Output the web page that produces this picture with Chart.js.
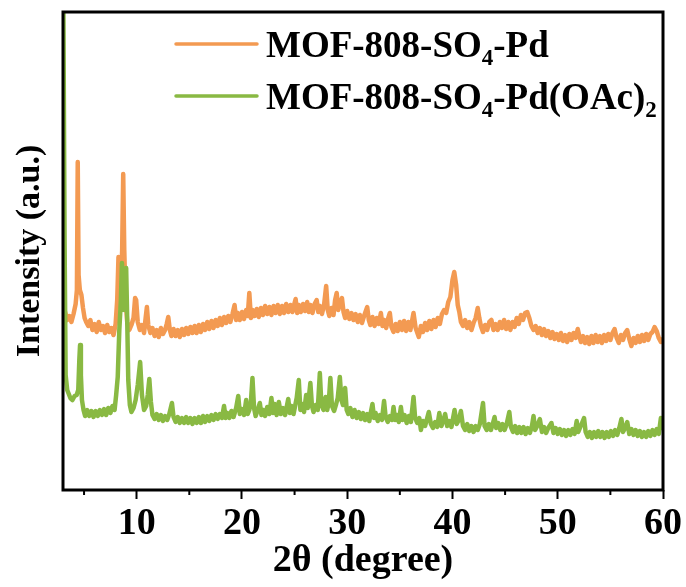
<!DOCTYPE html>
<html>
<head>
<meta charset="utf-8">
<title>XRD</title>
<script src="https://cdn.jsdelivr.net/npm/chart.js@4.4.1/dist/chart.umd.min.js"></script>
<style>
  html, body { margin: 0; padding: 0; background: #fff; }
  #wrap { width: 686px; height: 587px; }
</style>
</head>
<body>
<div id="wrap"><canvas id="xrd"></canvas></div>
<script>
// 2theta positions (degree) and intensities (a.u.) for each pattern
const angleA = [
  3.0, 3.2, 3.4, 3.6, 3.8, 4.0, 4.2, 4.32, 4.4, 4.48, 4.6, 4.75, 4.9, 5.05, 5.2, 5.4, 5.6, 5.8, 6.0, 6.2,
  6.4, 6.6, 6.8, 7.0, 7.2, 7.4, 7.6, 7.8, 8.0, 8.15, 8.27, 8.38, 8.5, 8.62, 8.72, 8.82, 8.95, 9.1, 9.3, 9.5,
  9.7, 9.85, 9.95, 10.1, 10.3, 10.5, 10.7, 10.85, 10.97, 11.1, 11.3, 11.5, 11.7, 11.9, 12.1, 12.3, 12.5, 12.7, 12.85, 13.0,
  13.15, 13.3, 13.5, 13.7, 13.9, 14.1, 14.3, 14.5, 14.7, 14.9, 15.1, 15.3, 15.5, 15.7, 15.9, 16.1, 16.3, 16.5, 16.7, 16.9,
  17.1, 17.3, 17.5, 17.7, 17.9, 18.1, 18.3, 18.5, 18.7, 18.9, 19.1, 19.3, 19.45, 19.6, 19.8, 20.0, 20.2, 20.4, 20.55, 20.7,
  20.85, 21.0, 21.2, 21.4, 21.6, 21.8, 22.0, 22.2, 22.4, 22.6, 22.8, 23.0, 23.2, 23.4, 23.6, 23.8, 24.0, 24.2, 24.4, 24.6,
  24.8, 25.0, 25.1, 25.25, 25.4, 25.6, 25.8, 26.0, 26.2, 26.35, 26.5, 26.7, 26.9, 27.1, 27.25, 27.4, 27.6, 27.8, 28.0, 28.15,
  28.3, 28.5, 28.7, 28.85, 29.0, 29.15, 29.3, 29.5, 29.65, 29.8, 30.0, 30.2, 30.4, 30.6, 30.8, 31.0, 31.2, 31.4, 31.6, 31.8,
  31.9, 32.05, 32.2, 32.4, 32.6, 32.8, 33.0, 33.2, 33.35, 33.5, 33.7, 33.9, 34.05, 34.2, 34.4, 34.6, 34.8, 35.0, 35.2, 35.4,
  35.6, 35.8, 36.0, 36.3, 36.5, 36.8, 37.0, 37.2, 37.4, 37.6, 37.8, 38.0, 38.2, 38.4, 38.6, 38.8, 39.0, 39.2, 39.4, 39.6,
  39.8, 40.0, 40.17, 40.35, 40.5, 40.65, 40.8, 41.0, 41.2, 41.4, 41.6, 41.8, 42.0, 42.2, 42.4, 42.55, 42.7, 42.9, 43.1, 43.3,
  43.5, 43.7, 43.9, 44.1, 44.3, 44.5, 44.7, 44.9, 45.1, 45.3, 45.5, 45.7, 45.9, 46.1, 46.3, 46.5, 46.7, 46.9, 47.1, 47.3,
  47.5, 47.7, 47.9, 48.1, 48.3, 48.5, 48.7, 48.9, 49.1, 49.3, 49.5, 49.7, 49.9, 50.1, 50.3, 50.5, 50.7, 50.9, 51.1, 51.3,
  51.5, 51.7, 51.9, 52.05, 52.2, 52.4, 52.6, 52.8, 53.0, 53.2, 53.4, 53.6, 53.8, 54.0, 54.2, 54.4, 54.6, 54.8, 55.0, 55.2,
  55.4, 55.6, 55.8, 56.0, 56.2, 56.4, 56.6, 56.8, 57.0, 57.2, 57.4, 57.6, 57.8, 58.0, 58.2, 58.4, 58.6, 58.8, 59.0, 59.2,
  59.4, 59.6, 59.8, 60.0
];
const intensityA = [
  172, 178, 170, 174, 168, 176, 186, 200, 328, 215, 200, 195, 182, 172, 168, 164, 170, 160, 166, 158,
  168, 160, 164, 157, 165, 158, 162, 155, 166, 190, 233, 200, 205, 240, 316, 240, 190, 168, 160, 165,
  172, 192, 190, 168, 160, 165, 157, 172, 183, 165, 157, 162, 154, 160, 153, 162, 156, 160, 166, 173,
  160, 154, 161, 154, 160, 153, 161, 155, 162, 156, 163, 157, 164, 157, 165, 158, 166, 160, 168, 161,
  169, 162, 170, 164, 172, 165, 173, 167, 174, 168, 176, 185, 170, 177, 170, 178, 171, 180, 174, 197,
  172, 180, 174, 181, 173, 182, 175, 184, 176, 183, 175, 184, 177, 185, 176, 184, 177, 186, 178, 185,
  178, 187, 191, 177, 185, 178, 186, 179, 188, 178, 185, 177, 186, 190, 178, 184, 176, 185, 204, 180,
  174, 182, 175, 190, 197, 180, 187, 192, 178, 172, 179, 171, 177, 170, 176, 168, 175, 167, 174, 180,
  183, 170, 165, 173, 164, 172, 166, 177, 164, 170, 162, 172, 177, 163, 158, 166, 159, 168, 160, 169,
  159, 168, 160, 177, 162, 153, 164, 158, 167, 160, 169, 161, 170, 163, 172, 166, 176, 180, 177, 188,
  193, 210, 218, 205, 185, 178, 168, 164, 170, 162, 168, 160, 167, 172, 182, 172, 164, 158, 165, 160,
  168, 170, 160, 166, 160, 168, 162, 170, 161, 168, 160, 168, 163, 172, 166, 175, 170, 177, 178, 172,
  164, 160, 164, 157, 162, 155, 161, 154, 159, 152, 158, 151, 156, 150, 157, 149, 155, 148, 156, 150,
  157, 152, 161, 154, 148, 154, 147, 153, 146, 154, 147, 155, 148, 154, 147, 155, 149, 156, 150, 157,
  161, 152, 147, 155, 150, 157, 160, 151, 144, 152, 147, 154, 148, 155, 149, 156, 150, 156, 158, 163,
  159, 152, 148, 152
];

const angleB = [
  3.0, 3.15, 3.25, 3.4, 3.55, 3.7, 3.9, 4.1, 4.3, 4.45, 4.55, 4.62, 4.7, 4.8, 4.95, 5.1, 5.3, 5.5, 5.7, 5.9,
  6.1, 6.3, 6.5, 6.7, 6.9, 7.1, 7.3, 7.5, 7.7, 7.9, 8.05, 8.2, 8.35, 8.5, 8.6, 8.7, 8.8, 8.9, 9.0, 9.1,
  9.2, 9.35, 9.5, 9.7, 9.9, 10.1, 10.33, 10.5, 10.7, 10.9, 11.05, 11.2, 11.35, 11.5, 11.7, 11.9, 12.1, 12.3, 12.5, 12.7,
  12.9, 13.1, 13.35, 13.5, 13.7, 13.9, 14.1, 14.3, 14.5, 14.7, 14.9, 15.1, 15.3, 15.5, 15.7, 15.9, 16.1, 16.3, 16.5, 16.7,
  16.9, 17.1, 17.3, 17.5, 17.7, 17.9, 18.1, 18.3, 18.45, 18.6, 18.8, 19.0, 19.2, 19.45, 19.65, 19.8, 20.0, 20.2, 20.4, 20.55,
  20.7, 20.85, 21.0, 21.15, 21.3, 21.5, 21.7, 21.85, 22.0, 22.2, 22.4, 22.6, 22.8, 22.95, 23.1, 23.3, 23.5, 23.7, 23.9, 24.1,
  24.25, 24.4, 24.55, 24.7, 24.9, 25.05, 25.2, 25.4, 25.55, 25.7, 25.9, 26.1, 26.25, 26.5, 26.65, 26.8, 27.0, 27.2, 27.4, 27.55,
  27.75, 27.95, 28.1, 28.25, 28.4, 28.55, 28.75, 28.95, 29.1, 29.3, 29.45, 29.6, 29.8, 29.95, 30.1, 30.3, 30.5, 30.7, 30.9, 31.1,
  31.3, 31.5, 31.7, 31.9, 32.1, 32.25, 32.4, 32.55, 32.7, 32.9, 33.1, 33.3, 33.5, 33.65, 33.85, 34.05, 34.25, 34.4, 34.55, 34.75,
  34.9, 35.1, 35.25, 35.45, 35.65, 35.85, 36.05, 36.3, 36.45, 36.65, 36.85, 37.0, 37.2, 37.4, 37.6, 37.75, 37.95, 38.15, 38.35, 38.55,
  38.75, 38.95, 39.15, 39.3, 39.5, 39.7, 39.9, 40.2, 40.4, 40.6, 40.8, 41.0, 41.2, 41.4, 41.6, 41.8, 42.0, 42.2, 42.4, 42.6,
  42.9, 43.05, 43.25, 43.45, 43.65, 43.85, 44.0, 44.15, 44.35, 44.55, 44.75, 44.95, 45.15, 45.4, 45.55, 45.75, 45.95, 46.15, 46.35, 46.55,
  46.75, 46.95, 47.15, 47.35, 47.55, 47.7, 47.85, 48.05, 48.3, 48.5, 48.7, 48.9, 49.1, 49.4, 49.6, 49.8, 50.0, 50.2, 50.4, 50.6,
  50.8, 51.0, 51.2, 51.4, 51.6, 51.8, 51.95, 52.15, 52.5, 52.65, 52.85, 53.05, 53.25, 53.45, 53.65, 53.85, 54.05, 54.25, 54.45, 54.65,
  54.85, 55.05, 55.25, 55.45, 55.65, 55.85, 56.05, 56.2, 56.4, 56.6, 56.8, 57.0, 57.2, 57.4, 57.6, 57.8, 58.0, 58.2, 58.4, 58.6,
  58.8, 59.0, 59.2, 59.4, 59.6, 59.8, 60.0
];
const intensityB = [
  560, 250, 115, 100, 96, 92, 90, 94, 95, 100, 130, 145, 115, 90, 80, 74, 80, 74, 79, 73,
  79, 74, 80, 75, 81, 75, 82, 77, 84, 80, 95, 113, 160, 190, 227, 200, 180, 205, 222, 170,
  110, 85, 78, 82, 90, 105, 128, 95, 80, 84, 95, 111, 88, 75, 71, 76, 70, 75, 69, 74,
  70, 76, 87, 73, 68, 73, 67, 72, 67, 73, 67, 72, 66, 72, 67, 73, 67, 74, 68, 74,
  69, 75, 70, 76, 71, 76, 72, 84, 72, 77, 72, 79, 73, 82, 94, 76, 81, 75, 90, 76,
  80, 88, 112, 82, 74, 80, 87, 75, 80, 74, 83, 76, 92, 77, 86, 75, 88, 76, 82, 75,
  83, 91, 77, 84, 76, 84, 92, 110, 80, 86, 78, 95, 82, 107, 84, 78, 85, 80, 117, 85,
  80, 93, 80, 88, 112, 84, 79, 86, 92, 113, 90, 85, 102, 80, 76, 82, 73, 80, 72, 78,
  71, 77, 70, 76, 69, 78, 86, 72, 77, 69, 75, 70, 89, 73, 68, 74, 70, 83, 70, 75,
  68, 83, 70, 75, 67, 74, 68, 93, 72, 67, 72, 60, 69, 64, 72, 78, 66, 62, 68, 63,
  77, 64, 70, 76, 64, 69, 63, 80, 66, 70, 79, 64, 60, 66, 59, 64, 58, 64, 60, 66,
  87, 64, 60, 66, 60, 67, 73, 62, 67, 60, 66, 60, 66, 78, 63, 58, 64, 57, 63, 57,
  63, 56, 62, 57, 64, 74, 60, 64, 71, 58, 63, 57, 62, 67, 57, 62, 56, 61, 55, 60,
  54, 60, 55, 61, 56, 69, 58, 63, 72, 58, 53, 58, 52, 58, 53, 59, 53, 58, 52, 58,
  53, 59, 54, 60, 55, 62, 71, 58, 62, 68, 56, 61, 55, 60, 54, 59, 53, 58, 53, 59,
  54, 60, 55, 61, 56, 72, 60
];

const seriesNames = ['MOF-808-SO\u2084-Pd', 'MOF-808-SO\u2084-Pd(OAc)\u2082'];
const majorTicks = [10, 20, 30, 40, 50, 60];
const minorTicks = [5, 15, 25, 35, 45, 55];

const serif = '"Liberation Serif", "Times New Roman", serif';

function toPoints(xs, ys) {
  return xs.map((x, i) => ({ x: x, y: ys[i] }));
}

// frame around the plot area plus the short minor ticks on the x axis
const frame = {
  id: 'frame',
  afterDraw(chart) {
    const { ctx, chartArea: a } = chart;
    const xs = chart.scales.x;
    ctx.save();
    ctx.strokeStyle = '#000';
    ctx.lineWidth = 3;
    ctx.strokeRect(a.left, a.top, a.right - a.left, a.bottom - a.top);
    ctx.lineWidth = 2;
    ctx.beginPath();
    minorTicks.forEach(v => {
      const px = xs.getPixelForValue(v);
      ctx.moveTo(px, a.bottom);
      ctx.lineTo(px, a.bottom + 5);
    });
    ctx.stroke();
    ctx.restore();
  }
};

// legend with subscripted digits
const subLegend = {
  id: 'subLegend',
  afterDraw(chart) {
    const ctx = chart.ctx;
    chart.data.datasets.forEach((ds, i) => {
      const y = 44 + i * 52;
      ctx.save();
      ctx.strokeStyle = ds.borderColor;
      ctx.lineWidth = 3.5;
      ctx.lineCap = 'round';
      ctx.beginPath();
      ctx.moveTo(176, y);
      ctx.lineTo(257, y);
      ctx.stroke();

      ctx.fillStyle = '#000';
      ctx.textBaseline = 'alphabetic';
      let x = 266;
      const base = y + 13;
      ds.label.split(/([\u2080-\u2089]+)/).forEach(part => {
        if (!part) return;
        if (/[\u2080-\u2089]/.test(part)) {
          const digits = part.replace(/[\u2080-\u2089]/g, c => String.fromCharCode(c.charCodeAt(0) - 0x2080 + 48));
          ctx.font = 'bold 23px ' + serif;
          ctx.fillText(digits, x, base + 8);
          x += ctx.measureText(digits).width;
        } else {
          ctx.font = 'bold 37px ' + serif;
          ctx.fillText(part, x, base);
          x += ctx.measureText(part).width;
        }
      });
      ctx.restore();
    });
  }
};

const ctx = document.getElementById('xrd').getContext('2d');

const config = {
  type: 'line',
  data: {
    datasets: [{
      label: seriesNames[0],
      data: toPoints(angleA, intensityA),
      borderColor: '#F39A52',
      borderWidth: 4.5,
      borderJoinStyle: 'round',
      pointRadius: 0,
      tension: 0,
      order: 1
    }, {
      label: seriesNames[1],
      data: toPoints(angleB, intensityB),
      borderColor: '#89B943',
      borderWidth: 4.5,
      borderJoinStyle: 'round',
      pointRadius: 0,
      tension: 0,
      order: 0
    }]
  },
  options: {
    responsive: true,
    maintainAspectRatio: false,
    animation: false,
    layout: { padding: { top: 12, right: 23, bottom: 0, left: 0 } },
    plugins: {
      legend: { display: false },
      tooltip: { enabled: false }
    },
    scales: {
      x: {
        type: 'linear',
        min: 3,
        max: 60,
        afterBuildTicks: scale => {
          scale.ticks = majorTicks.map(v => ({ value: v }));
        },
        afterFit: scale => { scale.height = 97; },
        border: { display: false },
        grid: {
          drawOnChartArea: false,
          drawTicks: true,
          tickLength: 9,
          tickWidth: 2,
          tickColor: '#000'
        },
        ticks: {
          color: '#000',
          padding: 2,
          maxRotation: 0,
          font: { family: serif, size: 38, weight: 'bold' }
        },
        title: {
          display: true,
          text: '2\u03b8 (degree)',
          color: '#000',
          padding: { top: 0, bottom: 3 },
          font: { family: serif, size: 38, weight: 'bold' }
        }
      },
      y: {
        min: 0,
        max: 478,
        afterFit: scale => { scale.width = 63; },
        border: { display: false },
        grid: { display: false },
        ticks: { display: false },
        title: {
          display: true,
          text: 'Intensity (a.u.)',
          color: '#000',
          padding: { top: 10, bottom: 0 },
          font: { family: serif, size: 34, weight: 'bold' }
        }
      }
    }
  },
  plugins: [frame, subLegend]
};

const xrdChart = new Chart(ctx, config);
</script>
</body>
</html>
